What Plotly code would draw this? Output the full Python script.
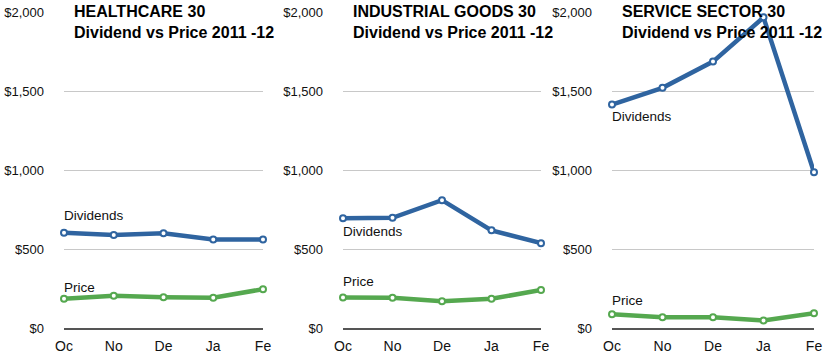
import plotly.graph_objects as go

months = ["Oc", "No", "De", "Ja", "Fe"]
titles = ["HEALTHCARE 30<br>Dividend vs Price 2011 -12",
          "INDUSTRIAL GOODS 30<br>Dividend vs Price 2011 -12",
          "SERVICE SECTOR 30<br>Dividend vs Price 2011 -12"]
healthcare_div = [603, 588, 599, 560, 560]
healthcare_price = [185, 204, 195, 191, 246]
industrial_div = [694, 697, 809, 618, 537]
industrial_price = [193, 192, 170, 185, 240]
service_div = [1414, 1520, 1686, 1966, 985]
service_price = [87, 68, 68, 47, 94]
div_label_y = [713, 609, 1336]
price_label_y = [259, 295, 174]
y_ticks = [0, 500, 1000, 1500, 2000]
y_tick_text = ["$0", "$500", "$1,000", "$1,500", "$2,000"]

W, H = 823, 357
BLUE = "#2f64a0"
GREEN = "#55a84f"
FONT = "Liberation Sans, Arial, sans-serif"

panels = [(healthcare_div, healthcare_price), (industrial_div, industrial_price), (service_div, service_price)]
xpix = [(64, 263), (343, 541), (612, 814)]
ydom = [(H - 328) / H, (H - 12) / H]

fig = go.Figure()
for i, (div, price) in enumerate(panels):
    n = "" if i == 0 else str(i + 1)
    xa, ya = "x" + n, "y" + n
    for vals, col in [(div, BLUE), (price, GREEN)]:
        fig.add_trace(go.Scatter(
            x=list(range(len(months))), y=vals, xaxis=xa, yaxis=ya,
            mode="lines+markers", cliponaxis=False, showlegend=False,
            line=dict(color=col, width=4.5),
            marker=dict(size=6, color="white", line=dict(color=col, width=2)),
        ))
    fig.layout["xaxis" + n] = dict(
        domain=[xpix[i][0] / W, xpix[i][1] / W], anchor=ya, automargin=False,
        range=[0, 4], tickmode="array", tickvals=list(range(5)), ticktext=months,
        showgrid=False, zeroline=False, showline=True, linecolor="#555555", linewidth=2,
        ticks="", tickfont=dict(family=FONT, size=14, color="#111"), ticklabelstandoff=4,
    )
    fig.layout["yaxis" + n] = dict(
        domain=ydom, anchor=xa, range=[0, 2000], automargin=False,
        tickmode="array", tickvals=y_ticks, ticktext=y_tick_text,
        showgrid=True, gridcolor="#c8c8c8", gridwidth=1.3, zeroline=False, showline=False,
        ticks="", tickfont=dict(family=FONT, size=13, color="#111"), ticklabelstandoff=19,
    )
    fig.add_annotation(x=0, y=div_label_y[i], xref=xa, yref=ya, text="Dividends",
                       showarrow=False, xanchor="left", yanchor="middle", xshift=-2,
                       font=dict(family=FONT, size=13.5, color="#111"))
    fig.add_annotation(x=0, y=price_label_y[i], xref=xa, yref=ya, text="Price",
                       showarrow=False, xanchor="left", yanchor="middle", xshift=-2,
                       font=dict(family=FONT, size=13.5, color="#111"))
    fig.add_annotation(x=(xpix[i][0] + 8) / W, y=1 - 0.5 / H, xref="paper", yref="paper",
                       text="<b>" + titles[i].replace("<br>", "</b><br><b>") + "</b>",
                       showarrow=False, xanchor="left", yanchor="top", align="left",
                       font=dict(family=FONT, size=16, color="#000"))

fig.update_layout(width=W, height=H, margin=dict(l=0, r=0, t=0, b=0, autoexpand=False),
                  paper_bgcolor="white", plot_bgcolor="white")
fig.write_html("out.html", config={"displayModeBar": False},
               post_script="document.body.style.margin='0';document.body.style.overflow='hidden';")
